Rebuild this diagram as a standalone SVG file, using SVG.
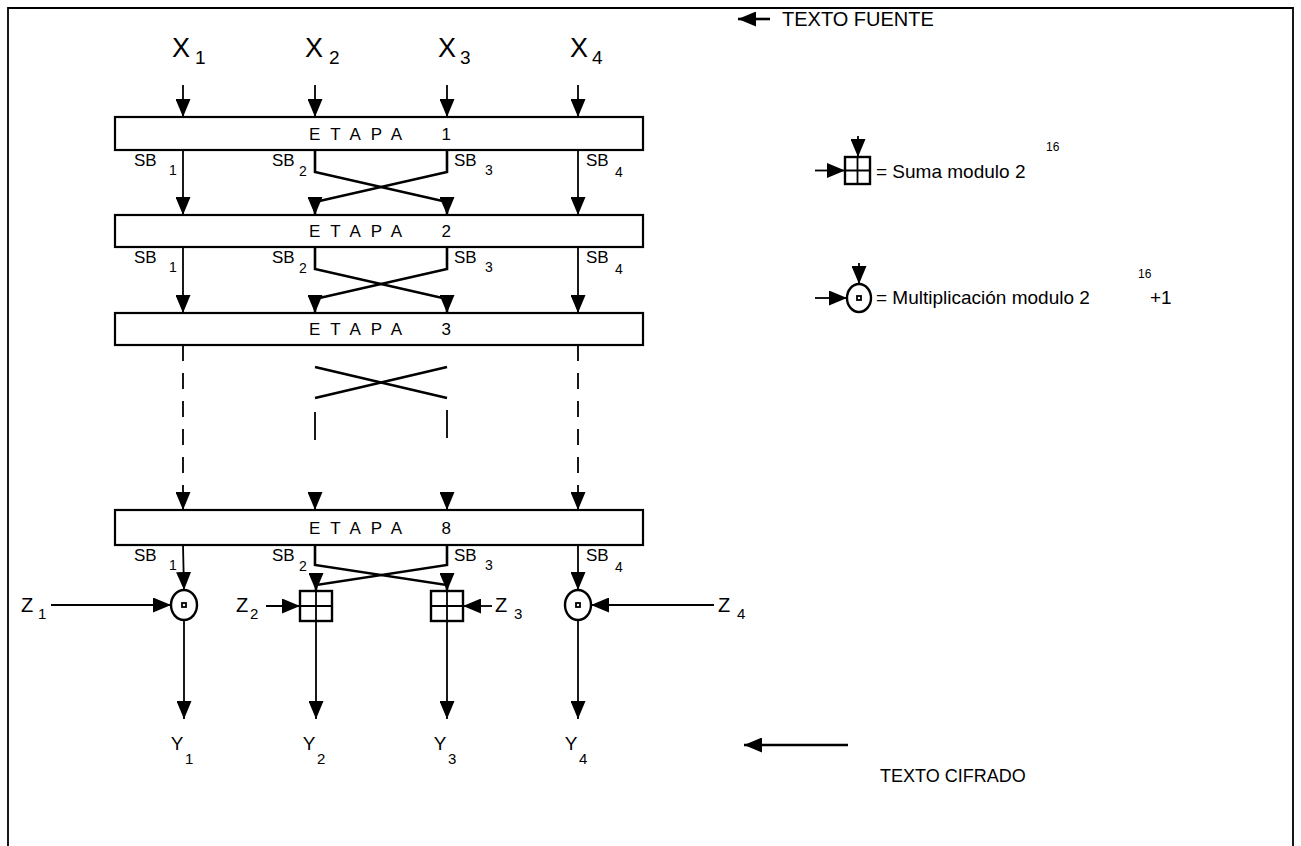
<svg xmlns="http://www.w3.org/2000/svg" width="1301" height="846" viewBox="0 0 1301 846">
<style>
text{font-family:"Liberation Sans",Arial,sans-serif;fill:#000}
.ln{stroke:#000;stroke-width:1.8;fill:none}
.dg{stroke:#000;stroke-width:2.6;fill:none}
.box{fill:#fff;stroke:#000;stroke-width:2.2}
.et{font-size:17px;letter-spacing:10px}
.x{font-size:27px}
.xs{font-size:19px}
.sb{font-size:17px}
.sbs{font-size:14px}
.z{font-size:20px}
.zs{font-size:15px}
.y{font-size:19px}
.ys{font-size:15px}
.lab{font-size:20px}
.cif{font-size:18px}
.leg{font-size:19px}
.sup{font-size:12px}
.op{fill:#fff;stroke:#000;stroke-width:2.4}
.dot{fill:none;stroke:#000;stroke-width:1.8}
</style>
<defs>
<marker id="ah" viewBox="0 0 18 15" refX="18" refY="7.5" markerWidth="18" markerHeight="15" markerUnits="userSpaceOnUse" orient="auto">
<path d="M0,0 L18,7.5 L0,15 z" fill="#000"/>
</marker>
</defs>
<rect width="1301" height="846" fill="#fff"/>
<g id="frame"><path d="M8,846 V8 H1293 V846" fill="none" stroke="#000" stroke-width="1.8"/></g>

<g id="inputs">
<text class="x" x="172" y="57">X</text><text class="xs" x="195" y="64">1</text>
<text class="x" x="305" y="57">X</text><text class="xs" x="329" y="64">2</text>
<text class="x" x="438" y="57">X</text><text class="xs" x="460" y="64">3</text>
<text class="x" x="570" y="57">X</text><text class="xs" x="592" y="64">4</text>
</g>
<g id="texto-fuente">
<text class="lab" x="782" y="26">TEXTO FUENTE</text>
</g>

<g id="etapa1"><rect class="box" x="115" y="117" width="528" height="33"/><text class="et" x="385" y="140" text-anchor="middle">ETAPA&#160; 1</text></g>
<g id="etapa2"><rect class="box" x="115" y="215" width="528" height="32"/><text class="et" x="385" y="237" text-anchor="middle">ETAPA&#160; 2</text></g>
<g id="etapa3"><rect class="box" x="115" y="313" width="528" height="32"/><text class="et" x="385" y="335" text-anchor="middle">ETAPA&#160; 3</text></g>
<g id="etapa8"><rect class="box" x="115" y="510" width="528" height="35"/><text class="et" x="385" y="534" text-anchor="middle">ETAPA&#160; 8</text></g>

<g id="sb-labels">
<text class="sb" x="134" y="166">SB</text><text class="sbs" x="169" y="175">1</text>
<text class="sb" x="272" y="166">SB</text><text class="sbs" x="299" y="176">2</text>
<text class="sb" x="454" y="166">SB</text><text class="sbs" x="485" y="175">3</text>
<text class="sb" x="586" y="166">SB</text><text class="sbs" x="615" y="177">4</text>
<text class="sb" x="134" y="263">SB</text><text class="sbs" x="169" y="272">1</text>
<text class="sb" x="272" y="263">SB</text><text class="sbs" x="299" y="273">2</text>
<text class="sb" x="454" y="263">SB</text><text class="sbs" x="485" y="272">3</text>
<text class="sb" x="586" y="263">SB</text><text class="sbs" x="615" y="274">4</text>
<text class="sb" x="134" y="561">SB</text><text class="sbs" x="169" y="570">1</text>
<text class="sb" x="272" y="561">SB</text><text class="sbs" x="299" y="571">2</text>
<text class="sb" x="454" y="561">SB</text><text class="sbs" x="485" y="570">3</text>
<text class="sb" x="586" y="561">SB</text><text class="sbs" x="615" y="572">4</text>
</g>

<g id="legend-suma">
<rect class="op" x="845" y="157" width="25" height="27"/>
<path class="ln" d="M857.5,157 V184 M845,170.5 H870"/>
<text class="leg" x="876" y="178">= Suma modulo 2</text>
<text class="sup" x="1046" y="151">16</text>
</g>
<g id="legend-mult">
<ellipse class="op" cx="859" cy="298" rx="12" ry="14"/>
<rect class="dot" x="857" y="296" width="4" height="4"/>
<text class="leg" x="876" y="304">= Multiplicación modulo 2</text>
<text class="sup" x="1138" y="278">16</text>
<text class="leg" x="1150" y="304">+1</text>
</g>

<g id="op-mul1"><ellipse class="op" cx="184" cy="605" rx="13" ry="15"/><rect class="dot" x="182" y="603" width="4" height="4"/></g>
<g id="op-add2"><rect class="op" x="300" y="591" width="32" height="30"/><path class="ln" d="M316,591 V621 M300,606 H332"/></g>
<g id="op-add3"><rect class="op" x="431" y="591" width="32" height="30"/><path class="ln" d="M447,591 V621 M431,606 H463"/></g>
<g id="op-mul4"><ellipse class="op" cx="578" cy="605" rx="13" ry="15"/><rect class="dot" x="576" y="603" width="4" height="4"/></g>

<g id="keys">
<text class="z" x="21" y="612">Z</text><text class="zs" x="38" y="619">1</text>
<text class="z" x="236" y="612">Z</text><text class="zs" x="250" y="619">2</text>
<text class="z" x="495" y="612">Z</text><text class="zs" x="514" y="619">3</text>
<text class="z" x="718" y="612">Z</text><text class="zs" x="737" y="619">4</text>
</g>

<g id="outputs">
<text class="y" x="177" y="750" text-anchor="middle">Y</text><text class="ys" x="185" y="764">1</text>
<text class="y" x="309" y="750" text-anchor="middle">Y</text><text class="ys" x="317" y="764">2</text>
<text class="y" x="440" y="750" text-anchor="middle">Y</text><text class="ys" x="448" y="764">3</text>
<text class="y" x="571" y="750" text-anchor="middle">Y</text><text class="ys" x="579" y="764">4</text>
</g>
<g id="texto-cifrado">
<text class="cif" x="880" y="782">TEXTO CIFRADO</text>
</g>

<g id="connectors">
<line class="dg" x1="770" y1="19" x2="738" y2="19" marker-end="url(#ah)"/>
<line class="dg" x1="848" y1="745" x2="744" y2="745" marker-end="url(#ah)"/>
<line class="ln" x1="183" y1="85" x2="183" y2="117" marker-end="url(#ah)"/>
<line class="ln" x1="315" y1="85" x2="315" y2="117" marker-end="url(#ah)"/>
<line class="ln" x1="447" y1="85" x2="447" y2="117" marker-end="url(#ah)"/>
<line class="ln" x1="578" y1="85" x2="578" y2="117" marker-end="url(#ah)"/>
<line class="ln" x1="183" y1="150" x2="183" y2="215" marker-end="url(#ah)"/>
<line class="ln" x1="578" y1="150" x2="578" y2="215" marker-end="url(#ah)"/>
<path class="dg" d="M315,150 V172 L447,202 V215" marker-end="url(#ah)"/>
<path class="dg" d="M447,150 V172 L315,202 V215" marker-end="url(#ah)"/>
<line class="ln" x1="183" y1="247" x2="183" y2="313" marker-end="url(#ah)"/>
<line class="ln" x1="578" y1="247" x2="578" y2="313" marker-end="url(#ah)"/>
<path class="dg" d="M315,247 V269 L447,299 V313" marker-end="url(#ah)"/>
<path class="dg" d="M447,247 V269 L315,299 V313" marker-end="url(#ah)"/>
<line class="ln" x1="183" y1="345" x2="183" y2="494" stroke-dasharray="16 12"/>
<line class="ln" x1="578" y1="345" x2="578" y2="494" stroke-dasharray="16 12"/>
<line class="dg" x1="315" y1="367" x2="447" y2="398"/>
<line class="dg" x1="447" y1="367" x2="315" y2="398"/>
<line class="ln" x1="315" y1="412" x2="315" y2="440"/>
<line class="ln" x1="447" y1="410" x2="447" y2="438"/>
<line class="ln" x1="183" y1="494" x2="183" y2="510" marker-end="url(#ah)"/>
<line class="ln" x1="315" y1="494" x2="315" y2="510" marker-end="url(#ah)"/>
<line class="ln" x1="447" y1="494" x2="447" y2="510" marker-end="url(#ah)"/>
<line class="ln" x1="578" y1="494" x2="578" y2="510" marker-end="url(#ah)"/>
<line class="ln" x1="183" y1="545" x2="184" y2="590" marker-end="url(#ah)"/>
<line class="ln" x1="578" y1="545" x2="578" y2="590" marker-end="url(#ah)"/>
<path class="dg" d="M315,545 V565 L447,585 V591" marker-end="url(#ah)"/>
<path class="dg" d="M447,545 V565 L316,585 V591" marker-end="url(#ah)"/>
<line class="ln" x1="51" y1="605" x2="171" y2="605" marker-end="url(#ah)"/>
<line class="ln" x1="266" y1="606" x2="300" y2="606" marker-end="url(#ah)"/>
<line class="ln" x1="492" y1="606" x2="463" y2="606" marker-end="url(#ah)"/>
<line class="ln" x1="714" y1="605" x2="591" y2="605" marker-end="url(#ah)"/>
<line class="ln" x1="184" y1="620" x2="184" y2="719" marker-end="url(#ah)"/>
<line class="ln" x1="316" y1="621" x2="316" y2="719" marker-end="url(#ah)"/>
<line class="ln" x1="447" y1="621" x2="447" y2="719" marker-end="url(#ah)"/>
<line class="ln" x1="578" y1="620" x2="578" y2="719" marker-end="url(#ah)"/>
<line class="ln" x1="858" y1="136" x2="858" y2="157" marker-end="url(#ah)"/>
<line class="ln" x1="815" y1="170.5" x2="845" y2="170.5" marker-end="url(#ah)"/>
<line class="ln" x1="859" y1="263" x2="859" y2="284" marker-end="url(#ah)"/>
<line class="ln" x1="815" y1="298" x2="847" y2="298" marker-end="url(#ah)"/>
</g>
</svg>
